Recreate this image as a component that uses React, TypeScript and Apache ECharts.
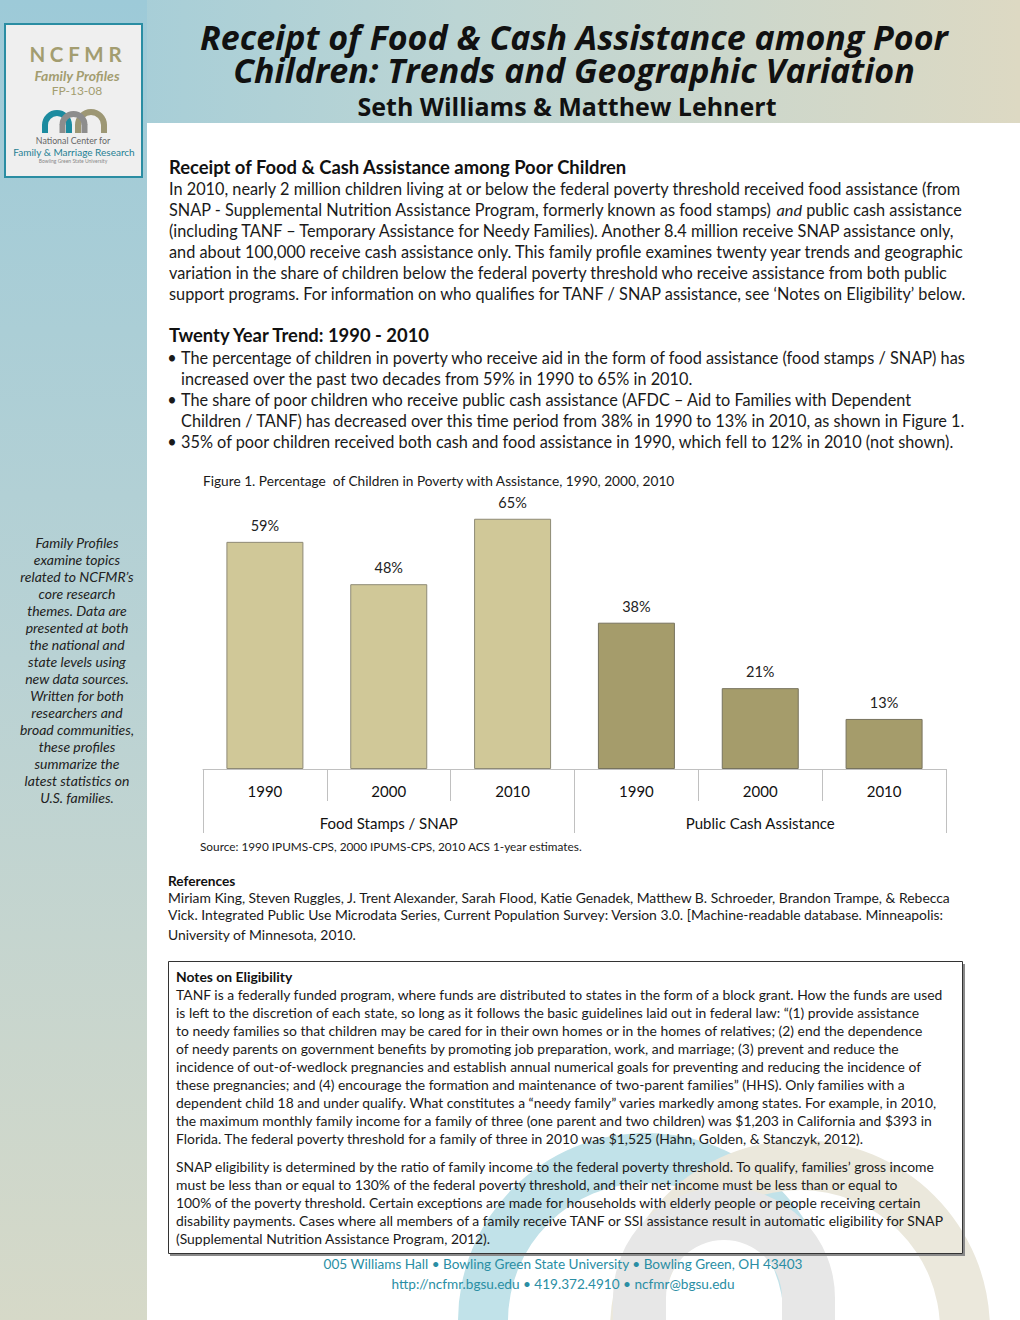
import { useEffect, useRef } from "react";
import * as echarts from "echarts";

// ---------- data ----------
const years = ["1990", "2000", "2010"];
const groups = ["Food Stamps / SNAP", "Public Cash Assistance"];
const foodValues = [59, 48, 65];
const cashValues = [38, 21, 13];

const titleLines = [
  "Receipt of Food & Cash Assistance among Poor",
  "Children: Trends and Geographic Variation",
];
const authors = "Seth Williams & Matthew Lehnert";

const introHead = "Receipt of Food & Cash Assistance among Poor Children";
const introLines = [
  "In 2010, nearly 2 million children living at or below the federal poverty threshold received food assistance (from",
  "SNAP - Supplemental Nutrition Assistance Program, formerly known as food stamps) {i|and} public cash assistance",
  "(including TANF – Temporary Assistance for Needy Families). Another 8.4 million receive SNAP assistance only,",
  "and about 100,000 receive cash assistance only. This family profile examines twenty year trends and geographic",
  "variation in the share of children below the federal poverty threshold who receive assistance from both public",
  "support programs. For information on who qualifies for TANF / SNAP assistance, see ‘Notes on Eligibility’ below.",
];

const trendHead = "Twenty Year Trend: 1990 - 2010";
const trendLines = [
  { b: true, t: "The percentage of children in poverty who receive aid in the form of food assistance (food stamps / SNAP) has" },
  { b: false, t: "increased over the past two decades from 59% in 1990 to 65% in 2010." },
  { b: true, t: "The share of poor children who receive public cash assistance (AFDC – Aid to Families with Dependent" },
  { b: false, t: "Children / TANF) has decreased over this time period from 38% in 1990 to 13% in 2010, as shown in Figure 1." },
  { b: true, t: "35% of poor children received both cash and food assistance in 1990, which fell to 12% in 2010 (not shown)." },
];

const figCaption = "Figure 1. Percentage  of Children in Poverty with Assistance, 1990, 2000, 2010";
const sourceText = "Source: 1990 IPUMS-CPS, 2000 IPUMS-CPS, 2010 ACS 1-year estimates.";

const refHead = "References";
const refLines = [
  "Miriam King, Steven Ruggles, J. Trent Alexander, Sarah Flood, Katie Genadek, Matthew B. Schroeder, Brandon Trampe, & Rebecca",
  "Vick. Integrated Public Use Microdata Series, Current Population Survey: Version 3.0. [Machine-readable database. Minneapolis:",
  "University of Minnesota, 2010.",
];

const notesHead = "Notes on Eligibility";
const notesPara1 = [
  "TANF is a federally funded program, where funds are distributed to states in the form of a block grant. How the funds are used",
  "is left to the discretion of each state, so long as it follows the basic guidelines laid out in federal law: “(1) provide assistance",
  "to needy families so that children may be cared for in their own homes or in the homes of relatives; (2) end the dependence",
  "of needy parents on government benefits by promoting job preparation, work, and marriage; (3) prevent and reduce the",
  "incidence of out-of-wedlock pregnancies and establish annual numerical goals for preventing and reducing the incidence of",
  "these pregnancies; and (4) encourage the formation and maintenance of two-parent families” (HHS). Only families with a",
  "dependent child 18 and under qualify. What constitutes a “needy family” varies markedly among states. For example, in 2010,",
  "the maximum monthly family income for a family of three (one parent and two children) was $1,203 in California and $393 in",
  "Florida. The federal poverty threshold for a family of three in 2010 was $1,525 (Hahn, Golden, & Stanczyk, 2012).",
];
const notesPara2 = [
  "SNAP eligibility is determined by the ratio of family income to the federal poverty threshold. To qualify, families’ gross income",
  "must be less than or equal to 130% of the federal poverty threshold, and their net income must be less than or equal to",
  "100% of the poverty threshold. Certain exceptions are made for households with elderly people or people receiving certain",
  "disability payments. Cases where all members of a family receive TANF or SSI assistance result in automatic eligibility for SNAP",
  "(Supplemental Nutrition Assistance Program, 2012).",
];

const sidebarLines = [
  "Family Profiles", "examine topics", "related to NCFMR’s", "core research", "themes. Data are",
  "presented at both", "the national and", "state levels using", "new data sources.", "Written for both",
  "researchers and", "broad communities,", "these profiles", "summarize the", "latest statistics on", "U.S. families.",
];

const footerLines = [
  "005 Williams Hall • Bowling Green State University • Bowling Green, OH 43403",
  "http://ncfmr.bgsu.edu • 419.372.4910 • ncfmr@bgsu.edu",
];

const logoLetters = ["N", "C", "F", "M", "R"];

// ---------- styles ----------
const FONT = "Lato, 'Open Sans', sans-serif";
const TITLE_FONT = "'Open Sans', Lato, sans-serif";
const FOOD_COLOR = "#d0c898";
const CASH_COLOR = "#a59c6b";
const KHAKI = "#a39d70";
const TEAL = "#2a8ea4";
const BODY = 16.3;
const NOTE = 13.9;

function T(x: number, y: number, text: string, o: any = {}) {
  const align = o.align || "left";
  const style: any = {
    text,
    fontFamily: o.family || FONT,
    fontSize: o.size || 14,
    fontWeight: o.weight || "normal",
    fontStyle: o.style || "normal",
    fill: o.color || "#1a1a1a",
    textAlign: align,
    align,
    textVerticalAlign: "middle",
    verticalAlign: "middle",
  };
  if (o.rich) style.rich = o.rich;
  if (o.lineHeight) style.lineHeight = o.lineHeight;
  return { type: "text", x, y, silent: true, style };
}

function arch(cx: number, cy: number, r: number, r0: number, bottom: number, color: string) {
  const children: any[] = [
    {
      type: "sector",
      silent: true,
      shape: { cx, cy, r, r0, startAngle: Math.PI, endAngle: Math.PI * 2, clockwise: true },
      style: { fill: color },
    },
  ];
  if (bottom > cy) {
    children.push({ type: "rect", silent: true, shape: { x: cx - r, y: cy - 0.5, width: r - r0, height: bottom - cy + 0.5 }, style: { fill: color } });
    children.push({ type: "rect", silent: true, shape: { x: cx + r0, y: cy - 0.5, width: r - r0, height: bottom - cy + 0.5 }, style: { fill: color } });
  }
  return { type: "group", children };
}

function buildGraphic() {
  const els: any[] = [];
  // header band
  els.push({
    type: "rect", silent: true, shape: { x: 0, y: 0, width: 1020, height: 123 },
    style: { fill: { type: "linear", x: 0, y: 0, x2: 1, y2: 0, colorStops: [{ offset: 0, color: "#9ecbd9" }, { offset: 0.45, color: "#bcd5d4" }, { offset: 1, color: "#ddd9c3" }] } },
  });
  // sidebar
  els.push({
    type: "rect", silent: true, shape: { x: 0, y: 0, width: 147, height: 1320 },
    style: { fill: { type: "linear", x: 0, y: 0, x2: 0, y2: 1, colorStops: [{ offset: 0, color: "#9dcad8" }, { offset: 0.5, color: "#b9d2d4" }, { offset: 1, color: "#d6d9c8" }] } },
  });
  // background arches
  els.push(arch(646, 1321, 188, 138, 1320, "#c1e2e9"));
  els.push(arch(800, 1330, 190, 140, 1320, "#ebe8dc"));
  els.push(arch(724, 1298, 111, 58, 1320, "#e7e7e7"));

  // logo box
  els.push({ type: "rect", silent: true, shape: { x: 5, y: 24, width: 137, height: 153 }, style: { fill: "#efefef", stroke: "#2a8da3", lineWidth: 2 } });
  const letterX = [37.5, 56.5, 74, 94, 115];
  logoLetters.forEach((l, i) => els.push(T(letterX[i], 54, l, { size: 20.5, weight: "bold", color: KHAKI, align: "center" })));
  els.push(T(77, 75, "Family Profiles", { size: 14, weight: "bold", style: "italic", color: KHAKI, align: "center" }));
  els.push(T(77, 90.5, "FP-13-08", { size: 12, color: KHAKI, align: "center" }));
  els.push(arch(57, 125, 15, 9, 133, "#1c8b9f"));
  els.push(arch(91, 125, 16, 10, 133, "#9d9774"));
  els.push(arch(73.5, 125, 14, 8, 133, "#8d8d8d"));
  els.push(T(73, 140.5, "National Center for", { size: 8.8, color: "#666", align: "center" }));
  els.push(T(74, 152, "Family & Marriage Research", { size: 10, color: "#1f7f94", align: "center" }));
  els.push(T(73, 161, "Bowling Green State University", { size: 5, color: "#888", align: "center" }));

  // title (two lines in one text block)
  els.push(T(574, 53.5, titleLines.join("\n"), { size: 34, weight: "bold", style: "italic", color: "#111", align: "center", family: TITLE_FONT, lineHeight: 33 }));
  els.push(T(567, 106, authors, { size: 25, weight: "bold", color: "#111", align: "center", family: TITLE_FONT }));

  // sidebar text
  sidebarLines.forEach((l, i) => els.push(T(77, 542 + i * 17, l, { size: 14, style: "italic", color: "#222", align: "center" })));

  // intro
  els.push(T(169, 167, introHead, { size: 18.4, weight: "bold", color: "#111" }));
  introLines.forEach((l, i) =>
    els.push(T(169, 188 + i * 21, l, { size: BODY, color: "#1a1a1a", rich: { i: { fontStyle: "italic", fontSize: BODY, fontFamily: FONT, fill: "#1a1a1a" } } }))
  );

  // trend
  els.push(T(169, 335, trendHead, { size: 18.4, weight: "bold", color: "#111" }));
  trendLines.forEach((l, i) => {
    const y = 357 + i * 21;
    if (l.b) els.push(T(172, y, "•", { size: BODY, align: "center" }));
    els.push(T(181, y, l.t, { size: BODY }));
  });

  // figure caption / source
  els.push(T(203, 480, figCaption, { size: 13.7 }));
  els.push(T(200, 846, sourceText, { size: 11.8 }));

  // references
  els.push(T(168, 880, refHead, { size: 13.7, weight: "bold", color: "#111" }));
  [897, 914, 934].forEach((y, i) => els.push(T(168, y, refLines[i], { size: NOTE })));

  // notes box
  els.push({ type: "polyline", silent: true, shape: { points: [[170, 1255], [964, 1255], [964, 964]] }, style: { stroke: "#8a8a8a", lineWidth: 2, fill: null } });
  els.push({ type: "rect", silent: true, shape: { x: 168.5, y: 961.5, width: 794, height: 292 }, style: { fill: null, stroke: "#333", lineWidth: 1 } });
  els.push(T(176, 976, notesHead, { size: NOTE, weight: "bold", color: "#111" }));
  notesPara1.forEach((l, i) => els.push(T(176, 994 + i * 18, l, { size: NOTE })));
  notesPara2.forEach((l, i) => els.push(T(176, 1166 + i * 18, l, { size: NOTE })));

  // footer
  footerLines.forEach((l, i) => els.push(T(563, 1264 + i * 20, l, { size: 13.6, color: TEAL, align: "center" })));
  return els;
}

export default function App() {
  const ref = useRef<HTMLDivElement>(null);
  useEffect(() => {
    if (!ref.current) return;
    const chart = echarts.init(ref.current, undefined, { renderer: "svg" });
    const categories = groups.flatMap(() => years);
    const blanks = years.map(() => "-");
    const labelCfg = {
      show: true,
      position: "top",
      distance: 9,
      formatter: "{c}%",
      fontFamily: FONT,
      fontSize: 14.5,
      color: "#222",
    };
    chart.setOption({
      animation: false,
      graphic: { elements: buildGraphic() },
      grid: { left: 203, right: 74, top: 384, bottom: 551, containLabel: false },
      xAxis: [
        {
          type: "category",
          data: categories,
          boundaryGap: true,
          axisLine: { show: true, lineStyle: { color: "#c0c0c0", width: 1 } },
          axisTick: { show: true, interval: 0, length: 32, lineStyle: { color: "#c0c0c0" } },
          axisLabel: { interval: 0, margin: 14, fontFamily: FONT, fontSize: 15, color: "#111" },
          z: 3,
        },
        {
          type: "category",
          data: groups,
          position: "bottom",
          offset: 32,
          boundaryGap: true,
          axisLine: { show: false },
          axisTick: { show: true, interval: 0, length: 32, lineStyle: { color: "#c0c0c0" } },
          axisLabel: { interval: 0, margin: 14, fontFamily: FONT, fontSize: 15, color: "#111" },
        },
      ],
      yAxis: { type: "value", min: 0, max: 100, show: false, splitLine: { show: false } },
      series: [
        {
          name: groups[0],
          type: "bar",
          xAxisIndex: 0,
          barWidth: 77,
          barGap: "-100%",
          data: [...foodValues, ...blanks],
          itemStyle: { color: FOOD_COLOR, borderColor: "#8e8a76", borderWidth: 1 },
          label: labelCfg,
        },
        {
          name: groups[1],
          type: "bar",
          xAxisIndex: 0,
          barWidth: 77,
          barGap: "-100%",
          data: [...blanks, ...cashValues],
          itemStyle: { color: CASH_COLOR, borderColor: "#77735e", borderWidth: 1 },
          label: labelCfg,
        },
      ],
    });
    return () => chart.dispose();
  }, []);
  return <div ref={ref} style={{ position: "absolute", left: 0, top: 0, width: 1020, height: 1320 }} />;
}
